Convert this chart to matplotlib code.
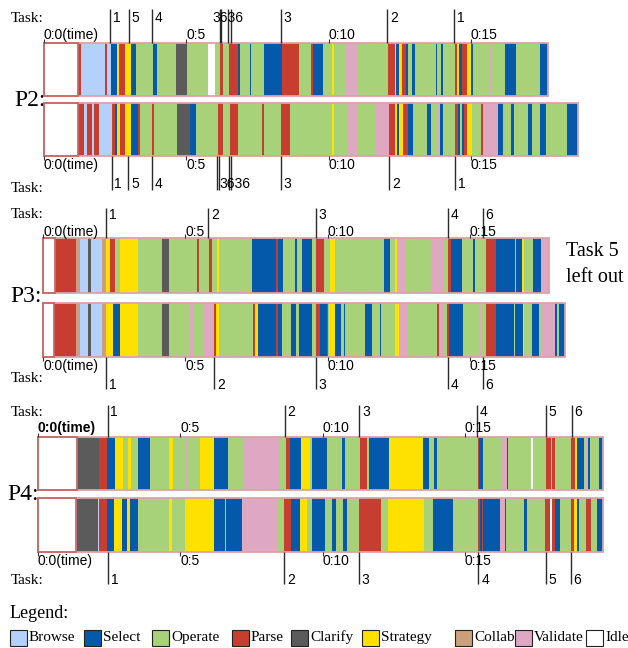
import matplotlib
matplotlib.use("Agg")
import matplotlib.pyplot as plt
from matplotlib.patches import Rectangle

# -----------------------------
# Activity codes and colours
# -----------------------------
NAMES = {'B': 'Browse', 'S': 'Select', 'O': 'Operate', 'P': 'Parse',
         'C': 'Clarify', 'Y': 'Strategy', 'L': 'Collab', 'V': 'Validate',
         'I': 'Idle'}
COLORS = {'B': '#b3d1fb', 'S': '#0559ab', 'O': '#a8d279', 'P': '#c73e31',
          'C': '#5b5b5b', 'Y': '#ffe100', 'L': '#caa07c', 'V': '#dea8c3',
          'I': '#ffffff'}
legend_order = ['B', 'S', 'O', 'P', 'C', 'Y', 'L', 'V', 'I']

# -----------------------------
# Activity sequences: (code, end time in minutes)
# -----------------------------
p2_top = [('I', 1.21), ('P', 1.30), ('B', 2.15), ('P', 2.21), ('B', 2.36), ('S', 2.56), ('Y', 2.65),
          ('P', 2.85), ('Y', 3.06), ('S', 3.23), ('O', 3.82), ('S', 3.96), ('O', 4.64), ('C', 5.04),
          ('O', 5.78), ('I', 6.01), ('O', 6.19), ('P', 6.28), ('O', 6.49), ('P', 6.82), ('S', 6.89),
          ('O', 7.24), ('S', 7.28), ('O', 7.73), ('S', 8.36), ('P', 8.96), ('O', 9.39), ('P', 9.47),
          ('S', 9.80), ('O', 10.11), ('Y', 10.18), ('O', 10.60), ('V', 11.01), ('O', 12.08),
          ('P', 12.34), ('Y', 12.38), ('S', 12.48), ('Y', 12.57), ('P', 12.72), ('S', 12.78),
          ('O', 12.94), ('S', 13.04), ('O', 13.78), ('S', 13.81), ('O', 13.94), ('S', 14.04),
          ('O', 14.45), ('P', 14.51), ('Y', 14.58), ('S', 14.68), ('P', 14.86), ('Y', 15.00),
          ('S', 15.07), ('O', 15.65), ('V', 15.70), ('O', 16.19), ('S', 16.59), ('O', 17.43),
          ('S', 17.71)]
p2_bot = [('I', 1.21), ('P', 1.41), ('B', 1.52), ('P', 1.68), ('B', 1.76), ('P', 1.93), ('B', 2.38),
          ('P', 2.49), ('S', 2.58), ('Y', 2.67), ('P', 2.85), ('Y', 3.06), ('S', 3.31), ('P', 3.37),
          ('O', 3.79), ('P', 3.88), ('O', 4.66), ('C', 5.13), ('S', 5.34), ('O', 6.11), ('P', 6.28),
          ('O', 6.54), ('P', 6.82), ('O', 7.67), ('P', 7.73), ('O', 8.33), ('P', 8.65), ('O', 10.13),
          ('Y', 10.18), ('O', 10.65), ('V', 11.03), ('O', 11.67), ('V', 12.13), ('P', 12.34),
          ('Y', 12.40), ('S', 12.48), ('Y', 12.62), ('P', 12.78), ('S', 12.96), ('O', 13.46),
          ('S', 13.59), ('O', 13.84), ('V', 13.92), ('S', 14.01), ('O', 14.45), ('P', 14.55),
          ('S', 14.62), ('O', 14.69), ('S', 14.76), ('P', 14.86), ('Y', 15.05), ('O', 15.36),
          ('P', 15.42), ('V', 15.96), ('S', 16.13), ('O', 16.40), ('S', 16.51), ('O', 17.01),
          ('S', 17.15), ('O', 17.43), ('S', 17.65), ('O', 18.38), ('S', 18.76)]
p3_top = [('I', 0.42), ('P', 1.16), ('L', 1.30), ('B', 1.57), ('C', 1.68), ('B', 2.06), ('L', 2.21),
          ('Y', 2.34), ('P', 2.53), ('O', 2.71), ('Y', 3.33), ('O', 4.17), ('C', 4.43), ('O', 5.40),
          ('P', 5.48), ('O', 5.83), ('P', 5.93), ('O', 6.11), ('Y', 6.20), ('O', 7.34), ('S', 8.19),
          ('P', 8.27), ('S', 8.45), ('O', 8.86), ('S', 8.92), ('O', 9.09), ('S', 9.44), ('O', 9.60),
          ('P', 9.88), ('O', 10.09), ('Y', 10.26), ('O', 11.99), ('S', 12.20), ('O', 12.37),
          ('Y', 12.45), ('V', 12.76), ('O', 13.68), ('V', 14.07), ('O', 14.23), ('P', 14.35),
          ('S', 14.74), ('O', 15.10), ('S', 15.18), ('O', 15.57), ('P', 15.91), ('S', 16.59),
          ('O', 16.63), ('S', 16.84), ('Y', 16.89), ('O', 17.21), ('S', 17.49), ('V', 17.80)]
p3_bot = [('I', 0.40), ('P', 1.16), ('L', 1.30), ('B', 1.59), ('C', 1.69), ('B', 2.06), ('L', 2.21),
          ('Y', 2.47), ('S', 2.71), ('Y', 3.33), ('O', 4.17), ('C', 4.43), ('O', 5.13), ('V', 5.31),
          ('O', 5.66), ('V', 6.01), ('P', 6.08), ('Y', 6.20), ('O', 7.37), ('P', 7.45), ('Y', 7.57),
          ('S', 8.19), ('P', 8.25), ('S', 8.41), ('O', 8.72), ('S', 8.88), ('O', 9.00), ('S', 9.44),
          ('O', 9.60), ('P', 9.74), ('S', 9.97), ('P', 10.01), ('O', 10.05), ('Y', 10.26),
          ('S', 10.46), ('O', 10.58), ('S', 10.62), ('O', 11.32), ('S', 11.55), ('O', 11.85),
          ('S', 11.88), ('O', 12.37), ('Y', 12.51), ('V', 12.78), ('O', 13.86), ('P', 13.91),
          ('V', 14.07), ('O', 14.19), ('P', 14.28), ('S', 14.75), ('O', 15.34), ('V', 15.42),
          ('O', 15.56), ('P', 15.92), ('S', 16.57), ('O', 16.60), ('S', 16.86), ('Y', 16.91),
          ('O', 17.20), ('S', 17.45), ('O', 17.53), ('V', 18.00), ('S', 18.06), ('O', 18.15),
          ('S', 18.35)]
p4_top = [('I', 1.36), ('P', 1.40), ('C', 2.15), ('P', 2.44), ('S', 2.71), ('Y', 3.00), ('O', 3.15),
          ('Y', 3.27), ('O', 3.53), ('S', 3.94), ('O', 4.62), ('Y', 4.73), ('O', 5.20), ('V', 5.25),
          ('O', 5.69), ('Y', 6.19), ('S', 6.69), ('O', 7.25), ('V', 8.48), ('O', 8.72), ('P', 8.86),
          ('S', 9.24), ('Y', 9.56), ('O', 9.64), ('S', 10.15), ('O', 10.70), ('S', 10.79),
          ('O', 11.32), ('P', 11.55), ('O', 11.63), ('S', 12.34), ('Y', 13.54), ('S', 13.74),
          ('O', 13.92), ('S', 14.04), ('O', 15.46), ('P', 15.51), ('S', 15.63), ('O', 16.30),
          ('V', 16.47), ('S', 16.51), ('O', 17.33), ('I', 17.39), ('O', 17.85), ('P', 18.03),
          ('O', 18.08), ('P', 18.17), ('O', 18.73), ('P', 18.88), ('Y', 18.95), ('S', 19.19),
          ('O', 19.26), ('V', 19.33), ('S', 19.40), ('O', 19.72), ('S', 19.87)]
p4_bot = [('I', 1.34), ('B', 1.38), ('C', 2.10), ('B', 2.15), ('P', 2.44), ('S', 2.68), ('Y', 2.96),
          ('S', 3.12), ('Y', 3.23), ('S', 3.50), ('O', 4.60), ('Y', 4.70), ('O', 5.17), ('Y', 6.19),
          ('S', 6.57), ('O', 6.61), ('S', 7.16), ('V', 8.45), ('O', 8.66), ('P', 8.89), ('S', 9.21),
          ('Y', 9.47), ('O', 9.64), ('S', 10.09), ('O', 10.34), ('S', 10.46), ('O', 10.73),
          ('S', 10.85), ('O', 11.28), ('P', 12.06), ('O', 12.29), ('Y', 13.57), ('O', 13.89),
          ('S', 14.60), ('O', 15.48), ('P', 15.54), ('S', 15.60), ('P', 15.63), ('S', 16.24),
          ('V', 16.42), ('S', 16.45), ('O', 17.08), ('S', 17.20), ('O', 17.82), ('P', 18.00),
          ('I', 18.06), ('P', 18.17), ('S', 18.35), ('O', 18.73), ('P', 18.84), ('Y', 18.94),
          ('S', 19.02), ('O', 19.26), ('P', 19.44), ('O', 19.66), ('S', 19.87)]

# -----------------------------
# Task start markers: (label, minute)
# -----------------------------
p2_top_tasks = [('1', 2.32), ('5', 2.99), ('4', 3.79), ('', 6.18), ('', 6.23), ('', 6.46),
                ('', 6.58), ('3', 8.33), ('2', 12.07), ('1', 14.42)]
p2_bot_tasks = [('1', 2.38), ('5', 2.96), ('4', 3.79), ('', 6.09), ('', 6.16), ('', 6.51),
                ('', 6.58), ('3', 8.33), ('2', 12.13), ('1', 14.46)]
p3_top_tasks = [('1', 2.21), ('2', 5.81), ('3', 9.60), ('4', 14.23), ('6', 15.46)]
p3_bot_tasks = [('1', 2.21), ('2', 6.01), ('3', 9.60), ('4', 14.23), ('6', 15.46)]
p4_top_tasks = [('1', 2.45), ('2', 8.68), ('3', 11.29), ('4', 15.44), ('5', 17.85), ('6', 18.76)]
p4_bot_tasks = [('1', 2.47), ('2', 8.66), ('3', 11.28), ('4', 15.48), ('5', 17.85), ('6', 18.72)]

time_ticks = [0, 5, 10, 15]
time_labels = ['0:0(time)', '0:5', '0:10', '0:15']

# -----------------------------
# Layout (pixels)
# -----------------------------
W, H = 628, 648
PX_PER_MIN = 28.45
SANS = 'Liberation Sans'
SERIF = 'Liberation Serif'

panels = [
    dict(name='P2:', name_xy=(14, 100), x0=44,
         top=p2_top, bot=p2_bot, top_tasks=p2_top_tasks, bot_tasks=p2_bot_tasks,
         top_bar=(43, 96), bot_bar=(103, 156),
         top_line=(9, 43), bot_line=(156, 190), top_lab=18, bot_lab=184,
         task_word=(18, 188), time_top=35, time_bot=165, bold0=False,
         cluster=[(5.91, 18, '3636'), (6.15, 184, '3636')]),
    dict(name='P3:', name_xy=(10, 296), x0=43,
         top=p3_top, bot=p3_bot, top_tasks=p3_top_tasks, bot_tasks=p3_bot_tasks,
         top_bar=(238, 293), bot_bar=(303, 357),
         top_line=(208, 238), bot_line=(357, 389), top_lab=215, bot_lab=385,
         task_word=(214, 378), time_top=232, time_bot=366, bold0=False, cluster=[]),
    dict(name='P4:', name_xy=(7, 494), x0=38,
         top=p4_top, bot=p4_bot, top_tasks=p4_top_tasks, bot_tasks=p4_bot_tasks,
         top_bar=(437, 490), bot_bar=(498, 552),
         top_line=(405, 437), bot_line=(552, 584), top_lab=412, bot_lab=580,
         task_word=(412, 580), time_top=428, time_bot=561, bold0=True, cluster=[]),
]

fig = plt.figure(figsize=(W / 100, H / 100), dpi=100)
base = fig.add_axes([0, 0, 1, 1])
base.set_xlim(0, W)
base.set_ylim(H, 0)
base.axis('off')


def draw_row(ax, seq, y0, y1):
    ends = [e for _, e in seq]
    starts = [0] + ends[:-1]
    widths = [e - s for s, e in zip(starts, ends)]
    cols = [COLORS[c] for c, _ in seq]
    ax.barh((y0 + y1) / 2, widths, left=starts, height=y1 - y0,
            color=cols, linewidth=0, align='center')
    ax.add_patch(Rectangle((0, y0), ends[-1], y1 - y0, fill=False,
                           ec='#dba3a6', lw=1.3))
    if seq[0][0] == 'I':
        ax.add_patch(Rectangle((0, y0), widths[0], y1 - y0, fill=False,
                               ec='#c7696a', lw=1.3))


def draw_tasks(ax, tasks, ya, yb, ylab):
    for lab, t in tasks:
        ax.vlines(t, ya, yb, color='#2a2a2a', lw=1.0)
        if lab:
            ax.annotate(lab, (t, ylab), xytext=(2, 0), textcoords='offset points',
                        ha='left', va='center', fontsize=10, family=SANS)


for p in panels:
    ax = fig.add_axes([0, 0, 1, 1])
    ax.set_xlim(-p['x0'] / PX_PER_MIN, (W - p['x0']) / PX_PER_MIN)
    ax.set_ylim(H, 0)
    ax.axis('off')
    ax.patch.set_alpha(0)

    draw_row(ax, p['top'], *p['top_bar'])
    draw_row(ax, p['bot'], *p['bot_bar'])
    draw_tasks(ax, p['top_tasks'], *p['top_line'], p['top_lab'])
    draw_tasks(ax, p['bot_tasks'], *p['bot_line'], p['bot_lab'])
    for t, y, s in p['cluster']:
        ax.text(t, y, s, ha='left', va='center', fontsize=10, family=SANS)

    # time ticks
    for m, lab in zip(time_ticks, time_labels):
        w = 'bold' if (m == 0 and p['bold0']) else 'normal'
        ax.vlines(m, p['top_bar'][0] - 4, p['top_bar'][0], color='#333', lw=0.8)
        ax.text(m, p['time_top'], lab, ha='left', va='center', fontsize=10,
                family=SANS, fontweight=w)
        ax.vlines(m, p['bot_bar'][1], p['bot_bar'][1] + 4, color='#333', lw=0.8)
        ax.text(m, p['time_bot'], lab, ha='left', va='center', fontsize=10,
                family=SANS)

    base.text(p['name_xy'][0], p['name_xy'][1], p['name'], ha='left', va='center',
              fontsize=17, family=SERIF)
    base.text(11, p['task_word'][0], 'Task:', ha='left', va='center', fontsize=11,
              family=SERIF)
    base.text(11, p['task_word'][1], 'Task:', ha='left', va='center', fontsize=11,
              family=SERIF)

base.text(566, 252, 'Task 5', ha='left', va='center', fontsize=14.5, family=SERIF)
base.text(566, 277, 'left out', ha='left', va='center', fontsize=14.5, family=SERIF)

# -----------------------------
# Legend
# -----------------------------
base.text(10, 614, 'Legend:', ha='left', va='center', fontsize=13, family=SERIF)
legend_x = [10, 84, 152, 232, 291, 362, 455, 515, 586]
for code, x in zip(legend_order, legend_x):
    base.add_patch(Rectangle((x, 630), 17, 16, fc=COLORS[code], ec='#222', lw=0.8))
    base.text(x + 19, 641, NAMES[code], ha='left', va='baseline', fontsize=11,
              family=SERIF)

fig.savefig('out.png', dpi=100)
